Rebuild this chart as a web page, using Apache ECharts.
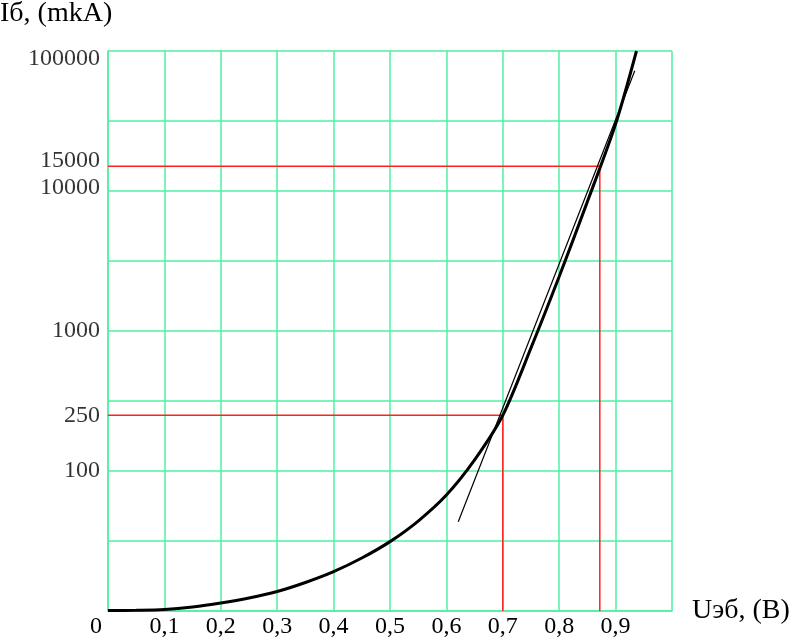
<!DOCTYPE html>
<html>
<head>
<meta charset="utf-8">
<script src="https://cdn.jsdelivr.net/npm/echarts@6/dist/echarts.min.js"></script>
<style>
html,body{margin:0;padding:0;background:#fff;}
#c{width:800px;height:641px;}
</style>
</head>
<body>
<div id="c"></div>
<script>
// ---- data ----
const curveX = [0, 0.05, 0.1, 0.15, 0.2, 0.25, 0.3, 0.35, 0.4, 0.45, 0.5, 0.55, 0.6, 0.65, 0.7, 0.75, 0.8, 0.85, 0.9, 0.937];
const curveY = [10.08, 10.12, 10.25, 10.68, 11.4, 12.38, 13.78, 15.98, 19.1, 23.9, 31.3, 43.9, 67.3, 120, 250, 757, 2450, 8400, 30100, 100000];
const tangentX = [0.621, 0.934];
const tangentY = [43.4, 72300];
const refX = [0.7, 0.872];
const refY = [250, 15000];
const yTickLabels = [100000, 15000, 10000, 1000, 250, 100];
const xName = 'Uэб, (B)';
const yName = 'Iб, (mkA)';

// ---- styles ----
const GREEN = '#4ef0a0';
const FONT = 'Liberation Serif';
const labelOffsets = {100000: [0, 8], 15000: [0, -6], 10000: [0, -3]};

const chart = echarts.init(document.getElementById('c'));

const curveData = curveX.map((x, i) => [x, curveY[i]]);
const tangentData = tangentX.map((x, i) => [x, tangentY[i]]);
const refSeries = refX.map((x, i) => ({
  type: 'line',
  data: [[0, refY[i]], [x, refY[i]], [x, 10]],
  symbol: 'none',
  lineStyle: {color: '#ff2020', width: 1.5},
  z: 3,
  silent: true
}));

const yLabelData = yTickLabels.map(v => ({
  value: [0, v],
  label: {offset: labelOffsets[v] || [0, 0]}
}));

chart.setOption({
  animation: false,
  backgroundColor: '#fff',
  title: {
    text: yName,
    left: 0, top: 0, padding: 0,
    textStyle: {fontFamily: FONT, fontSize: 28, fontWeight: 'normal', color: '#000'}
  },
  grid: {left: 108, top: 51, right: 128, bottom: 30},
  xAxis: {
    type: 'value', min: 0, max: 1, interval: 0.1,
    name: xName, nameLocation: 'end', nameGap: 20,
    nameTextStyle: {fontFamily: FONT, fontSize: 28, color: '#000', verticalAlign: 'middle'},
    axisLine: {lineStyle: {color: GREEN, width: 1.5}},
    axisTick: {show: false},
    splitLine: {show: true, lineStyle: {color: GREEN, width: 1.5}},
    axisLabel: {
      margin: 4,
      fontFamily: FONT, fontSize: 24, color: '#000',
      formatter: v => {
        if (v > 0.95) return '';
        if (v === 0) return '{z|0}';
        return v.toFixed(1).replace('.', ',');
      },
      rich: {z: {fontFamily: FONT, fontSize: 24, color: '#000', padding: [0, 24, 0, 0]}}
    }
  },
  yAxis: {
    type: 'log', logBase: Math.sqrt(10), min: 10, max: 100000, interval: 1,
    axisLine: {show: true, lineStyle: {color: GREEN, width: 1.5}},
    axisTick: {show: false},
    axisLabel: {show: false},
    splitLine: {show: true, lineStyle: {color: GREEN, width: 1.5}}
  },
  series: [
    ...refSeries,
    {
      type: 'line', data: tangentData, symbol: 'none',
      lineStyle: {color: '#000', width: 1.2}, z: 4, silent: true
    },
    {
      type: 'line', data: curveData, symbol: 'none', smooth: 0.3,
      lineStyle: {color: '#000', width: 3}, z: 5, silent: true
    },
    {
      type: 'scatter', data: yLabelData, symbolSize: 0, clip: false, silent: true,
      label: {
        show: true, position: 'left', distance: 8,
        fontFamily: FONT, fontSize: 24, color: '#000',
        formatter: p => String(p.value[1])
      }
    }
  ]
});
</script>
</body>
</html>
